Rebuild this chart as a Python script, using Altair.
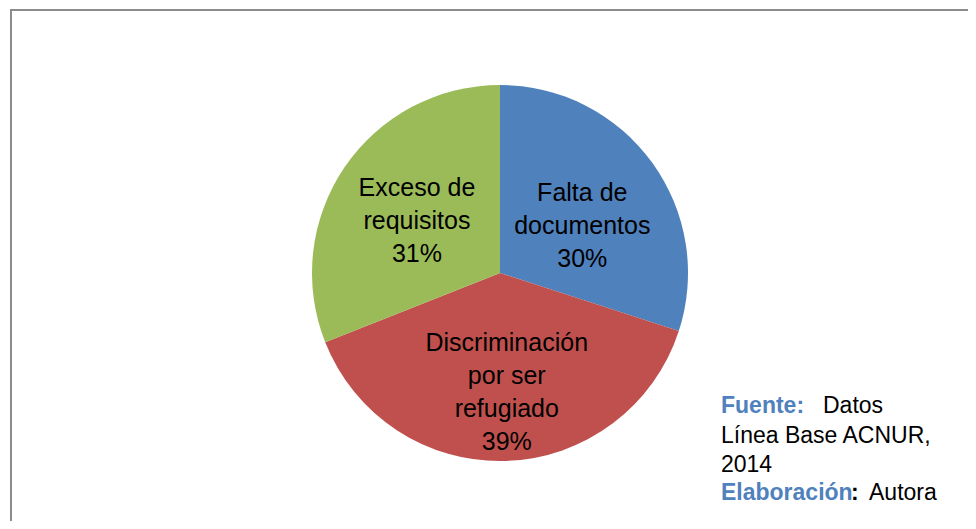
import altair as alt
import pandas as pd

# ---- data ----
categories = ["Falta de documentos", "Discriminación por ser refugiado", "Exceso de requisitos"]
label_text = ["Falta de\ndocumentos", "Discriminación\npor ser\nrefugiado", "Exceso de\nrequisitos"]
percent = [30, 39, 31]
colors = ["#4F81BD", "#C0504D", "#9BBB59"]

source_lines = ["Fuente:", "Datos", "Línea Base ACNUR,", "2014", "Elaboración", ":", "Autora"]

df = pd.DataFrame({
    "cat": categories,
    "pct": percent,
    "order": list(range(len(categories))),
    "label": [f"{t}\n{p}%" for t, p in zip(label_text, percent)],
})

W, H = 960, 513
CX, CY = 492, 264
FONT = "Liberation Sans"

base = alt.Chart(df).encode(
    theta=alt.Theta("pct:Q", stack=True),
    order=alt.Order("order:O"),
    x=alt.value(CX),
    y=alt.value(CY),
)

pie = base.mark_arc(outerRadius=188).encode(
    color=alt.Color("cat:N", scale=alt.Scale(domain=categories, range=colors), legend=None)
)


def slice_label(idx, radius, dx, dy):
    return base.transform_calculate(
        lab=f"datum.order == {idx} ? datum.label : ''"
    ).mark_text(
        fontSize=25, lineHeight=33, font=FONT, color="black",
        lineBreak="\n", align="center", baseline="middle", dx=dx, dy=dy,
    ).encode(text="lab:N", radius=alt.value(radius))


labels = [
    slice_label(0, 98, 3, -22),
    slice_label(1, 120, 3, -50),
    slice_label(2, 98, -2, -30),
]

one = pd.DataFrame({"a": [0]})
border_top = alt.Chart(one).mark_rule(color="#8c8c8c", strokeWidth=2).encode(
    x=alt.value(2), x2=alt.value(W), y=alt.value(1))
border_left = alt.Chart(one).mark_rule(color="#8c8c8c", strokeWidth=2).encode(
    x=alt.value(3), y=alt.value(0), y2=alt.value(H))


def note(txt, x, y, color="black", bold=False):
    return alt.Chart(one).mark_text(
        text=txt, font=FONT, fontSize=23, color=color,
        fontWeight="bold" if bold else "normal",
        align="left", baseline="alphabetic",
    ).encode(x=alt.value(x), y=alt.value(y))


blue = "#4F81BD"
notes = [
    note(source_lines[0], 713, 404, blue, True),
    note(source_lines[1], 815, 404),
    note(source_lines[2], 713, 434),
    note(source_lines[3], 713, 463),
    note(source_lines[4], 713, 491, blue, True),
    note(source_lines[5], 843, 491, "black", True),
    note(source_lines[6], 861, 491),
]

chart = alt.layer(pie, *labels, border_top, border_left, *notes).properties(
    width=W, height=H, padding=0,
    autosize=alt.AutoSizeParams(type="fit", contains="padding"),
    background="white",
).configure_view(stroke=None)

chart.save("out.html", embed_options={"renderer": "svg", "actions": False})
